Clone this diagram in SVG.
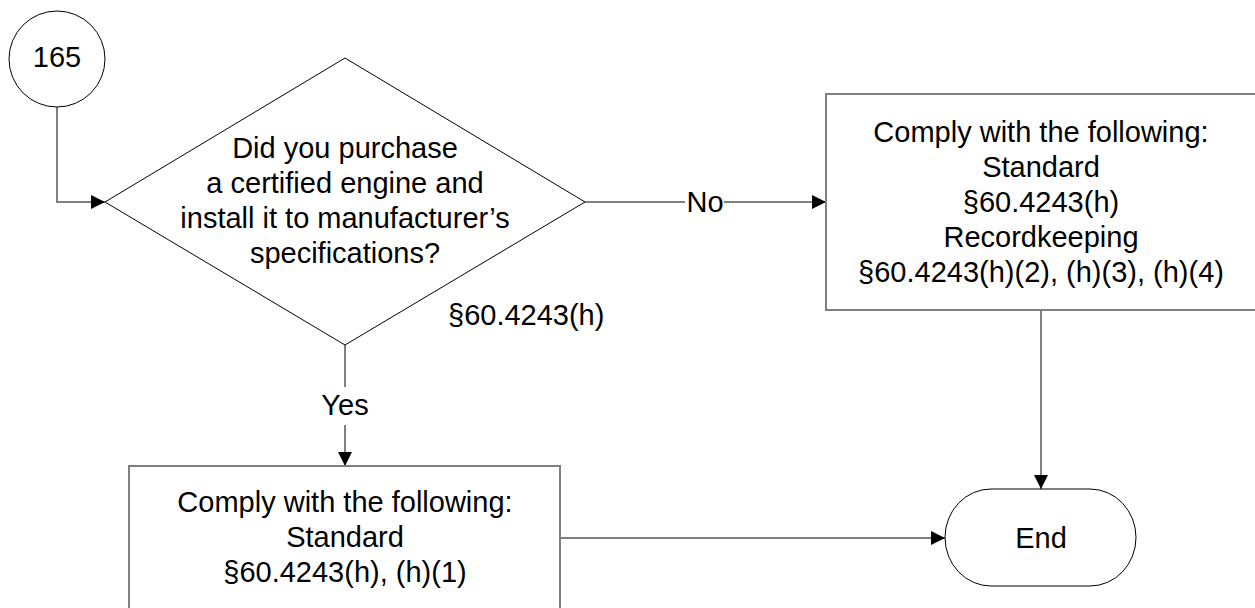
<svg xmlns="http://www.w3.org/2000/svg" width="1255" height="608" viewBox="0 0 1255 608">
  <style>
    text { font-family: "Liberation Sans", Arial, sans-serif; font-size: 29px; fill: #000; }
    .c { text-anchor: middle; }
    .conn { fill: none; stroke: #7f7f7f; stroke-width: 2; }
    .box { fill: #fff; stroke: #7f7f7f; stroke-width: 2; }
    .shape { fill: #fff; stroke: #000; stroke-width: 1; }
  </style>
  <defs>
    <marker id="arr" markerUnits="userSpaceOnUse" markerWidth="14" markerHeight="14" refX="14" refY="7" orient="auto">
      <path d="M0,0 L14,7 L0,14 z" fill="#000"/>
    </marker>
  </defs>
  <rect width="1255" height="608" fill="#fff"/>

  <g id="connectors">
    <path class="conn" d="M57,107 V202 H105" marker-end="url(#arr)"/>
    <path class="conn" d="M585,202 H685"/>
    <path class="conn" d="M724,202 H826" marker-end="url(#arr)"/>
    <path class="conn" d="M345,345 V387"/>
    <path class="conn" d="M345,425 V466" marker-end="url(#arr)"/>
    <path class="conn" d="M1041,310 V489" marker-end="url(#arr)"/>
    <path class="conn" d="M560,538 H945" marker-end="url(#arr)"/>
    <text class="c" x="705" y="212">No</text>
    <text class="c" x="345" y="415">Yes</text>
  </g>

  <g id="start165">
    <circle class="shape" cx="57" cy="59" r="48"/>
    <text class="c" x="57" y="67">165</text>
  </g>

  <g id="decision">
    <polygon class="shape" points="105,202 345,58 585,202 345,345"/>
    <text class="c" x="345" y="158">Did you purchase</text>
    <text class="c" x="345" y="193">a certified engine and</text>
    <text class="c" x="345" y="228">install it to manufacturer’s</text>
    <text class="c" x="345" y="263">specifications?</text>
    <text x="448" y="325">§60.4243(h)</text>
  </g>

  <g id="noBox">
    <rect class="box" x="826" y="94" width="430" height="216"/>
    <text class="c" x="1041" y="142">Comply with the following:</text>
    <text class="c" x="1041" y="177">Standard</text>
    <text class="c" x="1041" y="212">§60.4243(h)</text>
    <text class="c" x="1041" y="247">Recordkeeping</text>
    <text class="c" x="1041" y="282">§60.4243(h)(2), (h)(3), (h)(4)</text>
  </g>

  <g id="yesBox">
    <rect class="box" x="129" y="466" width="431" height="160"/>
    <text class="c" x="345" y="512">Comply with the following:</text>
    <text class="c" x="345" y="547">Standard</text>
    <text class="c" x="345" y="582">§60.4243(h), (h)(1)</text>
  </g>

  <g id="end">
    <rect class="shape" x="945" y="489" width="191" height="97" rx="46" ry="48.5"/>
    <text class="c" x="1041" y="548">End</text>
  </g>
</svg>
